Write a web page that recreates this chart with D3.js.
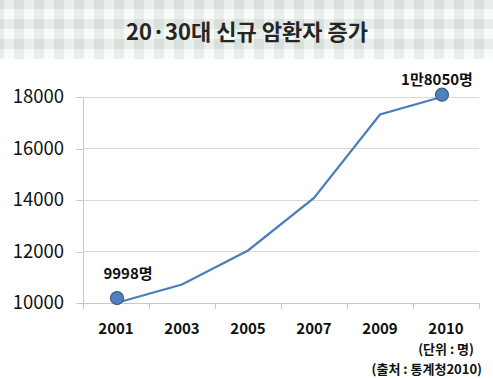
<!DOCTYPE html>
<html><head><meta charset="utf-8">
<script src="https://cdn.jsdelivr.net/npm/d3@7"></script>
<style>body{margin:0;background:#fff}svg{display:block}</style>
</head><body>
<svg id="c" width="493" height="379"></svg>
<script>
const years = ["2001","2003","2005","2007","2009","2010"];
const values = [9998, 10720, 12040, 14080, 17320, 18050];
const yTicks = [10000, 12000, 14000, 16000, 18000];
const pointLabels = ["9998명", null, null, null, null, "1만8050명"];
const title = "20·30대 신규 암환자 증가";
const notes = ["(단위 : 명)", "(출처 : 통계청2010)"];

const svg = d3.select("#c");
const KR = "'Noto Sans CJK KR','Noto Sans',sans-serif";

// checkered header
const defs = svg.append("defs");
const pat = defs.append("pattern").attr("id","chk").attr("patternUnits","userSpaceOnUse")
  .attr("width",20).attr("height",20).attr("x",4).attr("y",9);
pat.append("rect").attr("width",20).attr("height",20).attr("fill","#f7fcf8");
pat.append("rect").attr("x",10).attr("width",10).attr("height",20).attr("fill","#e8eee9");
pat.append("rect").attr("y",10).attr("width",20).attr("height",10).attr("fill","#e8eee9");
pat.append("rect").attr("x",10).attr("y",10).attr("width",10).attr("height",10).attr("fill","#d9e0dc");
svg.append("rect").attr("width",493).attr("height",59).attr("fill","url(#chk)");

svg.append("text").attr("x",247).attr("y",40).attr("text-anchor","middle")
  .attr("font-family",KR).attr("font-weight","bold").attr("font-size",22)
  .attr("fill","#262626").text(title);

const x = d3.scaleBand().domain(years).range([83,479]);
const y = d3.scaleLinear().domain([10000,18000]).range([303,97]);

// gridlines
svg.append("g").selectAll("line").data(yTicks).join("line")
  .attr("x1",83).attr("x2",479).attr("y1",d=>y(d)).attr("y2",d=>y(d))
  .attr("stroke","#d9d9d9").attr("stroke-width",1).attr("shape-rendering","crispEdges");

// y axis
const ya = svg.append("g").attr("transform","translate(83,0)")
  .call(d3.axisLeft(y).tickValues(yTicks).tickSize(7).tickPadding(12).tickFormat(d3.format("d")));
ya.select(".domain").attr("stroke","#c8c8c8").attr("shape-rendering","crispEdges");
ya.selectAll(".tick line").attr("stroke","#c8c8c8").attr("shape-rendering","crispEdges");
ya.selectAll(".tick text").attr("font-family",KR).attr("font-size",18.5).attr("fill","#111");

// x axis
const xa = svg.append("g").attr("transform","translate(0,303)")
  .call(d3.axisBottom(x).tickSize(0).tickPadding(20).tickSizeOuter(0));
xa.select(".domain").attr("stroke","#c8c8c8").attr("shape-rendering","crispEdges");
xa.selectAll(".tick text").attr("font-family",KR).attr("font-weight","bold").attr("font-size",15).attr("fill","#111");
// band boundary ticks
const bounds = years.map(d=>x(d)).concat([x.range()[1]]);
svg.append("g").selectAll("line").data(bounds).join("line")
  .attr("x1",d=>d).attr("x2",d=>d).attr("y1",303).attr("y2",309)
  .attr("stroke","#c8c8c8").attr("shape-rendering","crispEdges");

const cx = d=>x(d)+x.bandwidth()/2;
const pts = years.map((d,i)=>({year:d,value:values[i],label:pointLabels[i]}));

svg.append("path").datum(pts)
  .attr("d",d3.line().x(d=>cx(d.year)).y(d=>y(d.value)))
  .attr("fill","none").attr("stroke","#4a7ebb").attr("stroke-width",2.2);

const hl = pts.filter(d=>d.label);
svg.append("g").selectAll("circle").data(hl).join("circle")
  .attr("cx",(d,i)=>cx(d.year)+(i===0?1:-4)).attr("cy",(d,i)=>y(d.value)-(i===0?5:1))
  .attr("r",6.5).attr("fill","#4f81bd").attr("stroke","#385d8a").attr("stroke-width",1.2);

svg.append("g").selectAll("text").data(hl).join("text")
  .attr("x",(d,i)=>cx(d.year)+(i===0?12:-9)).attr("y",(d,i)=>y(d.value)+(i===0?-24:-11))
  .attr("text-anchor","middle").attr("font-family",KR).attr("font-weight","bold")
  .attr("font-size",15).attr("fill","#111").text(d=>d.label);

svg.append("g").selectAll("text").data(notes).join("text")
  .attr("x",(d,i)=>i===0?474:482).attr("y",(d,i)=>354+i*20)
  .attr("text-anchor","end").attr("font-family",KR).attr("font-weight","bold")
  .attr("font-size",13).attr("fill","#111").text(d=>d);
</script>
</body></html>
